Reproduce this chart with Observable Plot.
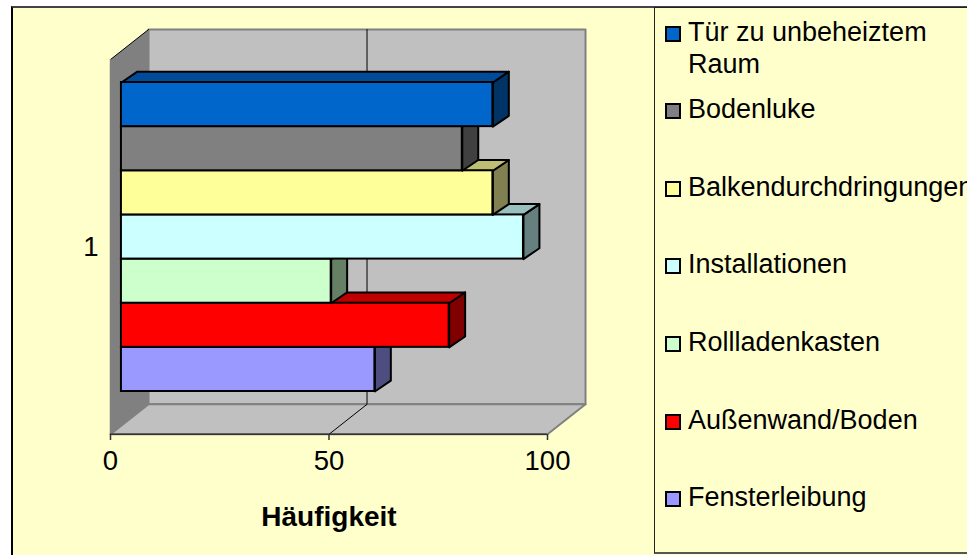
<!DOCTYPE html>
<html><head><meta charset="utf-8">
<script src="https://cdn.jsdelivr.net/npm/d3@7"></script>
<script src="https://cdn.jsdelivr.net/npm/@observablehq/plot@0.6"></script>
<style>
html,body{margin:0;padding:0;width:967px;height:555px;overflow:hidden;background:#fff;font-family:"Liberation Sans",Arial,sans-serif}
#bg{position:absolute;left:11px;top:6px;right:0;bottom:0;background:#FFFFCC;border-left:2px solid #000;border-top:2px solid #444}
#chart{position:absolute;left:0;top:0}
#chart svg{background:transparent}
#legend{position:absolute;left:654px;top:7px;width:330px;height:544px;border:1px solid #222;border-bottom:2px solid #555;overflow:hidden}
.it{position:absolute;left:33px;font-size:27px;line-height:32px;color:#000;white-space:pre}
.sw{position:absolute;left:-23px;top:10px;width:12px;height:12px;border:2px solid #000}
</style></head><body>
<div id="bg"></div><div id="chart"></div><div id="legend"></div>
<script>
const categories = ["Tür zu unbeheiztem\nRaum","Bodenluke","Balkendurchdringungen","Installationen","Rollladenkasten","Außenwand/Boden","Fensterleibung"];
const values = [85,78,85,92,48,75,58];
const frontColors = ["#0066CC","#808080","#FFFF99","#CCFFFF","#CCFFCC","#FF0000","#9999FF"];
const topColors = ["#004C99","#606060","#BFBF73","#99BFBF","#99BF99","#BF0000","#7373BF"];
const sideColors = ["#003366","#404040","#808050","#668080","#668066","#800000","#4D4D80"];
const xTicks = [0,50,100];
const xTitle = "Häufigkeit";
const categoryLabel = "1";

// oblique projection constants in data units (value, row)
const wallDX = 8.7, wallDY = -0.68;
const wallTop = -0.52, wallBottom = 7.97;
const barShift = 2.5, barDX = 3.65, barDY = -0.245;

const poly = (pts, o) => Plot.line(pts, {x:d=>d[0], y:d=>d[1], curve:"linear-closed", ...o});

const walls = [
  poly([[0,wallTop],[wallDX,wallTop+wallDY],[wallDX,wallBottom+wallDY],[0,wallBottom]], {fill:"#808080", stroke:"none"}),
  poly([[wallDX,wallTop+wallDY],[100+wallDX,wallTop+wallDY],[100+wallDX,wallBottom+wallDY],[wallDX,wallBottom+wallDY]], {fill:"#C0C0C0", stroke:"#808080", strokeWidth:2}),
  poly([[0,wallBottom],[wallDX,wallBottom+wallDY],[100+wallDX,wallBottom+wallDY],[100,wallBottom]], {fill:"#C0C0C0", stroke:"#808080", strokeWidth:2}),
  Plot.line([[0,wallTop],[wallDX,wallTop+wallDY]], {x:d=>d[0], y:d=>d[1], stroke:"#000", strokeWidth:1}),
  Plot.line([[0,wallTop],[0,wallBottom]], {x:d=>d[0], y:d=>d[1], stroke:"#808080", strokeWidth:1.5}),
  Plot.line([[50,wallBottom],[50+wallDX,wallBottom+wallDY],[50+wallDX,wallTop+wallDY]], {x:d=>d[0], y:d=>d[1], stroke:"#000", strokeWidth:1})
];

const bars = values.map((v,i)=>{
  const a = barShift, b = v+barShift, c = b+barDX;
  const t = i, u = i+1;
  return [
    poly([[b,t],[c,t+barDY],[c,u+barDY],[b,u]], {fill:sideColors[i], stroke:"#000", strokeWidth:2}),
    poly([[a,t],[a+barDX,t+barDY],[c,t+barDY],[b,t]], {fill:topColors[i], stroke:"#000", strokeWidth:2}),
    Plot.rect([i], {x1:()=>a, x2:()=>b, y1:()=>t, y2:()=>u, fill:frontColors[i], stroke:"#000", strokeWidth:2})
  ];
}).reverse().flat();

const chart = Plot.plot({
  width:967, height:555,
  marginLeft:110, marginRight:420, marginTop:30, marginBottom:121,
  style:{fontFamily:'"Liberation Sans",Arial,sans-serif', color:"#000"},
  x:{domain:[0,100], axis:null},
  y:{domain:[0,7], range:[82,391], axis:null},
  marks:[
    ...walls,
    ...bars,
    Plot.axisX({anchor:"bottom", ticks:xTicks, tickSize:6, tickPadding:10, fontSize:27.5, stroke:"#333", strokeWidth:1.5, label:null, tickFormat:d=>String(d)}),
    Plot.ruleY([wallBottom], {x1:0, x2:100, stroke:"#333", strokeWidth:1.5}),
    Plot.text([categoryLabel], {frameAnchor:"left", dx:-12, dy:15, textAnchor:"end", fontSize:27.5, fill:"#000"}),
    Plot.text([xTitle], {frameAnchor:"bottom", dy:91, fontSize:28, fontWeight:"bold", fill:"#000"})
  ]
});
document.getElementById("chart").append(chart);

const tops = [8,85,163,240,318,396,473];
const lg = document.getElementById("legend");
categories.forEach((c,i)=>{
  const it = document.createElement("div");
  it.className="it"; it.style.top=tops[i]+"px"; it.textContent=c;
  const sw = document.createElement("span");
  sw.className="sw"; sw.style.background=frontColors[i];
  it.prepend(sw);
  lg.append(it);
});
</script>
</body></html>
